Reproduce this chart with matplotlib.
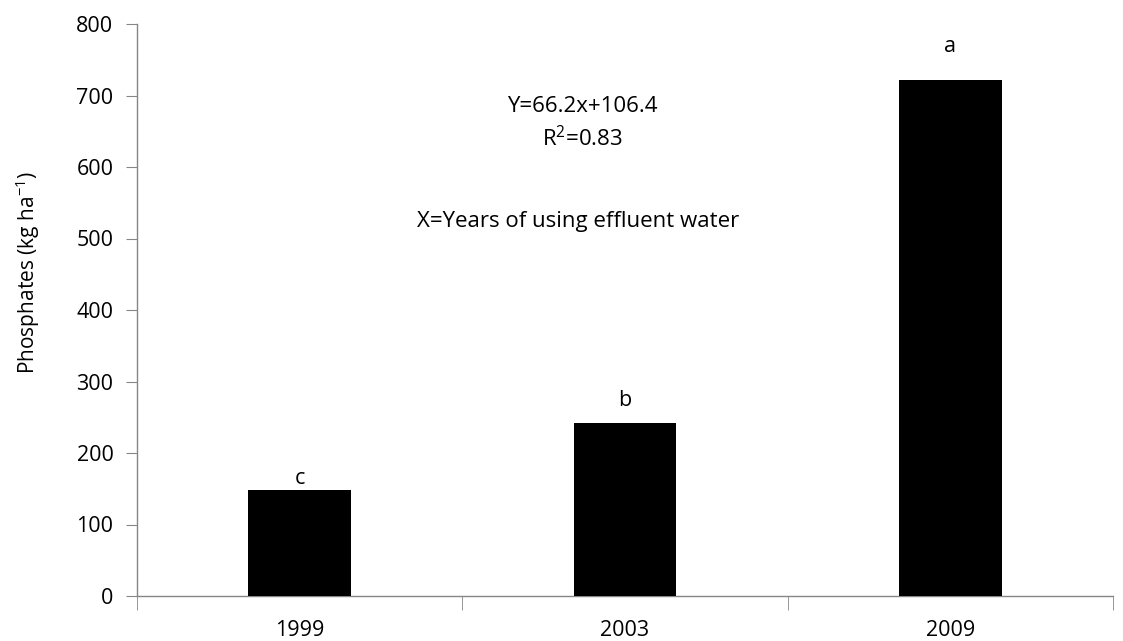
import matplotlib
matplotlib.use("Agg")
import matplotlib.pyplot as plt

years = ["1999", "2003", "2009"]
phosphates = [148, 242, 722]
letters = ["c", "b", "a"]
letter_y = [165, 273, 768]
yticks = [0, 100, 200, 300, 400, 500, 600, 700, 800]

plt.rcParams['font.family'] = ['Open Sans', 'DejaVu Sans']
plt.rcParams['mathtext.default'] = 'regular'
fig = plt.figure(figsize=(11.23, 6.41), dpi=100)
ax = fig.add_axes([137/1123, 1-596/641, (1113-137)/1123, (596-24)/641])

x = list(range(len(years)))
ax.bar(x, phosphates, width=0.315, color="black", zorder=3)
for xi, ly, l in zip(x, letter_y, letters):
    ax.text(xi, ly, l, ha="center", va="center", fontsize=15.5, color="black")

ax.set_xlim(-0.5, len(years) - 0.5)
ax.set_ylim(0, 800)
ax.set_yticks(yticks)
ax.set_yticklabels([str(t) for t in yticks], fontsize=15.5)
ax.set_xticks(x)
ax.set_xticklabels(years, fontsize=15.5)
ax.tick_params(axis="x", which="major", length=0, pad=17)
ax.set_xticks([i - 0.5 for i in range(len(years) + 1)], minor=True)
ax.tick_params(axis="x", which="minor", length=10, color="#868686", direction="out")
ax.tick_params(axis="y", length=8, color="#868686", direction="out", pad=9)

for s in ["top", "right"]:
    ax.spines[s].set_visible(False)
for s in ["left", "bottom"]:
    ax.spines[s].set_color("#868686")
    ax.spines[s].set_linewidth(1.0)

ax.set_ylabel("Phosphates (kg ha$^{-1}$)", fontsize=15)
ax.yaxis.set_label_coords(-0.097, 0.566)

ax.text(0.868, 684, "Y=66.2x+106.4", ha="center", va="center", fontsize=16)
ax.text(0.868, 640, "R$^{2}$=0.83", ha="center", va="center", fontsize=16)
ax.text(0.855, 524, "X=Years of using effluent water", ha="center", va="center", fontsize=16)

fig.savefig("out.png", dpi=100)
